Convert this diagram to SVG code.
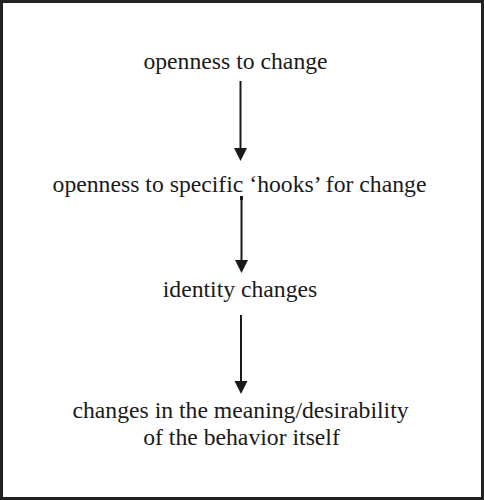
<svg xmlns="http://www.w3.org/2000/svg" width="484" height="500" viewBox="0 0 484 500">
<defs>
<style>
.t{font-family:"Liberation Serif","Times New Roman",serif;font-size:23.7px;fill:#1a1a1a;text-anchor:middle}
.c{stroke:#1a1a1a;stroke-width:2;fill:none}
.h{fill:#1a1a1a}
</style>
</defs>
<rect x="1.5" y="1.5" width="481" height="497" fill="#fff" stroke="#222" stroke-width="3"/>
<g id="n1"><text class="t" x="235.5" y="69">openness to change</text></g>
<g id="n2"><text class="t" x="239.5" y="192">openness to specific ‘hooks’ for change</text></g>
<g id="n3"><text class="t" x="240" y="297">identity changes</text></g>
<g id="n4"><text class="t" x="240.5" y="418">changes in the meaning/desirability</text><text class="t" x="241.5" y="445">of the behavior itself</text></g>
<g id="connectors">
<line class="c" x1="240.5" y1="81" x2="240.5" y2="150"/>
<polygon class="h" points="234,148 247,148 240.5,161"/>
<line class="c" x1="241.5" y1="197" x2="241.5" y2="262"/>
<rect class="h" x="240" y="196" width="3" height="4"/>
<polygon class="h" points="235,260 248,260 241.5,273"/>
<line class="c" x1="241" y1="315" x2="241" y2="383"/>
<polygon class="h" points="234.5,381 247.5,381 241,394"/>
</g>
</svg>
